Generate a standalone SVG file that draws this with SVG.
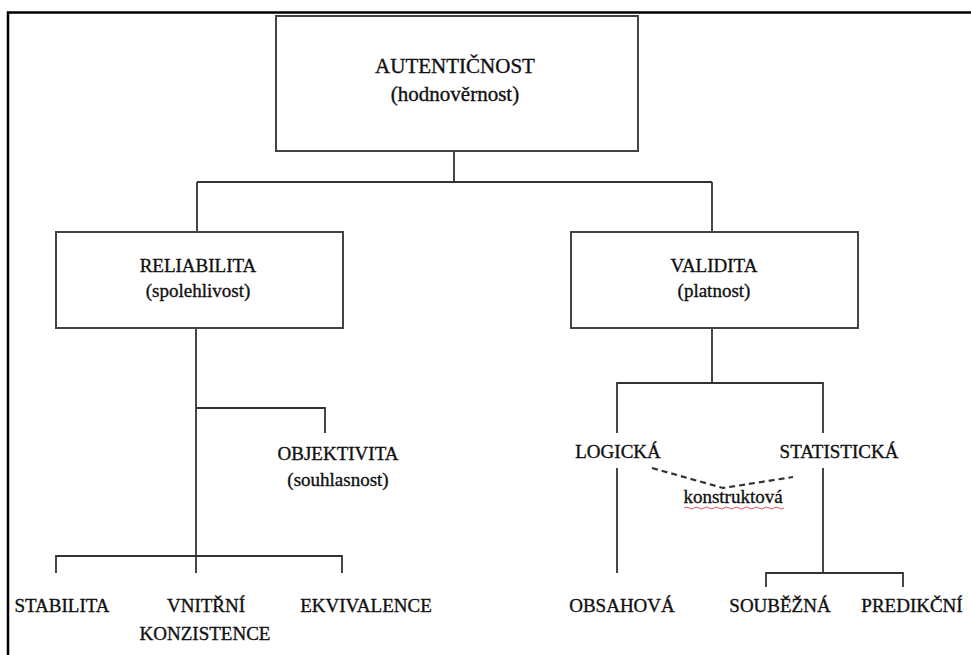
<svg xmlns="http://www.w3.org/2000/svg" width="971" height="655" viewBox="0 0 971 655">
<style>
text{font-family:"Liberation Serif","Times New Roman",serif;fill:#111;stroke:#111;stroke-width:0.35;text-anchor:middle;font-size:19px}
.box{fill:#fff;stroke:#444;stroke-width:2}
.ln{fill:none;stroke:#333;stroke-width:1.8}
.dash{fill:none;stroke:#333;stroke-width:2.2;stroke-dasharray:6 4}
</style>
<rect width="971" height="655" fill="#fff"/>
<path d="M8,655 V12.5 H971" fill="none" stroke="#000" stroke-width="2.5"/>
<g id="connectors">
<path class="ln" d="M454,151 V182 M197,182 H712 M197,182 V232 M712,182 V232"/>
<path class="ln" d="M196,328 V573 M196,408 H325 V433 M56,573 V556 H342 V573"/>
<path class="ln" d="M712,328 V383 M617,433 V383 H823 V433 M617,468 V573 M823,468 V573 M766,587 V573 H903 V587"/>
<path class="dash" d="M652,468 L723,488 L793,477"/>
</g>
<g id="autenticnost"><rect class="box" x="276" y="16" width="362" height="135"/><text x="455" y="73" style="font-size:21px">AUTENTIČNOST</text><text x="455" y="101" style="font-size:21px">(hodnověrnost)</text></g>
<g id="reliabilita"><rect class="box" x="56" y="232" width="287" height="96"/><text x="198" y="272">RELIABILITA</text><text x="198" y="297">(spolehlivost)</text></g>
<g id="validita"><rect class="box" x="571" y="232" width="287" height="96"/><text x="714" y="272">VALIDITA</text><text x="714" y="297">(platnost)</text></g>
<g id="objektivita"><text x="338" y="460">OBJEKTIVITA</text><text x="338" y="486">(souhlasnost)</text></g>
<g id="stabilita"><text x="62" y="612">STABILITA</text></g>
<g id="vnitrni"><text x="206" y="612">VNITŘNÍ</text><text x="205" y="640">KONZISTENCE</text></g>
<g id="ekvivalence"><text x="366" y="612">EKVIVALENCE</text></g>
<g id="logicka"><text x="618" y="458">LOGICKÁ</text></g>
<g id="statisticka"><text x="839" y="458">STATISTICKÁ</text></g>
<g id="konstruktova"><text x="733" y="503">konstruktová</text><path d="M684,508 q2.5,-2 5,0 t5,0 t5,0 t5,0 t5,0 t5,0 t5,0 t5,0 t5,0 t5,0 t5,0 t5,0 t5,0 t5,0 t5,0 t5,0 t5,0 t5,0 t5,0 t5,0" fill="none" stroke="#e05060" stroke-width="1"/></g>
<g id="obsahova"><text x="622" y="612">OBSAHOVÁ</text></g>
<g id="soubezna"><text x="780" y="612">SOUBĚŽNÁ</text></g>
<g id="predikcni"><text x="912" y="612">PREDIKČNÍ</text></g>
</svg>
